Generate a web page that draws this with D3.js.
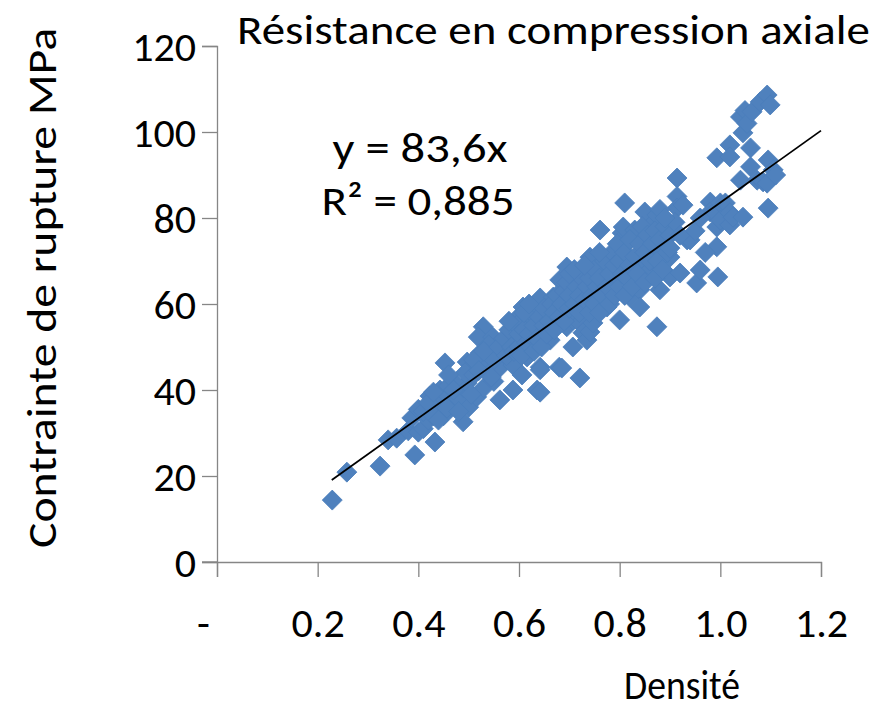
<!DOCTYPE html>
<html><head><meta charset="utf-8">
<script src="https://cdn.jsdelivr.net/npm/d3@7"></script>
<style>body{margin:0;background:#fff}svg{display:block}text{font-family:Carlito,Lato,"Open Sans",sans-serif;fill:#000}</style>
</head><body>
<svg id="c" width="894" height="711"></svg>
<script>
const density = [
0.229,0.258,0.324,0.340,0.357,0.393,0.380,0.400,0.410,0.433,
0.387,0.420,0.400,0.423,0.443,0.450,0.450,0.440,0.453,0.460,
0.470,0.489,0.480,0.490,0.500,0.497,0.457,0.516,0.470,0.497,
0.523,0.493,0.510,0.530,0.542,0.530,0.550,0.562,0.568,0.560,
0.529,0.519,0.548,0.558,0.540,0.550,0.510,0.520,0.530,0.545,
0.410,0.420,0.430,0.430,0.440,0.460,0.470,0.480,0.460,0.505,
0.588,0.596,0.602,0.608,0.622,0.622,0.616,0.642,0.588,0.606,
0.588,0.636,0.642,0.642,0.662,0.642,0.642,0.668,0.662,0.680,
0.685,0.695,0.707,0.707,0.721,0.721,0.727,0.735,0.741,0.747,
0.727,0.695,0.681,0.741,0.761,0.775,0.775,0.795,0.800,0.805,
0.807,0.807,0.810,0.820,0.830,0.840,0.840,0.840,0.850,0.860,
0.866,0.874,0.874,0.874,0.880,0.900,0.900,0.914,0.914,0.914,
0.926,0.920,0.934,0.940,0.953,0.960,0.980,0.980,0.986,0.993,
0.993,0.993,0.995,1.000,1.000,1.010,1.019,1.019,1.019,1.019,
1.025,1.040,1.040,1.045,1.045,1.049,1.053,1.060,1.060,1.063,
1.073,1.079,1.085,1.093,1.093,1.095,1.095,1.099,1.105,1.110,
0.560,0.570,0.575,0.580,0.585,0.590,0.595,0.600,0.600,0.605,
0.610,0.615,0.620,0.625,0.630,0.630,0.635,0.640,0.645,0.650,
0.650,0.655,0.660,0.665,0.670,0.670,0.675,0.680,0.685,0.690,
0.690,0.695,0.700,0.700,0.705,0.710,0.715,0.720,0.720,0.725,
0.730,0.735,0.740,0.740,0.745,0.750,0.750,0.755,0.760,0.760,
0.765,0.770,0.775,0.780,0.780,0.785,0.790,0.790,0.795,0.800,
0.800,0.805,0.810,0.810,0.815,0.820,0.820,0.825,0.830,0.835,
0.840,0.845,0.850,0.850,0.855,0.860,0.865,0.870,0.870,0.875,
0.880,0.885,0.890,0.895,0.900,0.910,0.900,0.920,0.950,0.960,
0.970,0.880,0.890,0.700,0.710,0.730,0.760,0.610,0.620,0.580
];
const strength = [
14.4,20.9,22.3,28.4,28.8,24.9,30.5,30.2,31.0,27.9,
33.5,33.0,35.5,38.6,40.0,37.0,34.0,36.5,46.3,38.5,
36.5,32.6,38.0,40.5,36.0,41.6,35.8,38.4,42.0,46.5,
48.6,44.0,43.5,46.0,44.0,40.5,42.0,37.7,47.7,45.0,
54.7,52.3,52.3,49.3,50.5,47.0,47.0,44.5,49.0,43.0,
35.0,37.0,34.0,39.5,33.0,41.0,40.0,35.0,43.5,39.0,
51.6,52.3,57.4,59.3,56.3,50.0,47.7,45.3,45.8,43.5,
40.0,40.0,39.5,44.7,51.6,54.0,61.4,61.6,57.9,45.3,
45.1,54.7,50.0,56.3,55.6,42.8,53.3,51.6,53.5,55.6,
59.3,68.6,65.6,70.9,77.2,69.5,59.3,65.6,56.3,76.5,
73.3,77.9,83.5,61.6,77.2,69.5,63.3,59.3,81.4,67.9,
78.8,80.7,72.6,54.7,63.3,66.3,70.9,89.3,85.0,82.3,
83.0,67.2,74.9,74.9,64.9,67.9,83.7,81.4,81.2,94.0,
77.9,73.3,66.3,83.5,79.5,83.5,97.0,94.2,81.2,78.4,
80.2,103.5,88.8,99.8,80.2,105.0,102.0,96.3,91.9,104.7,
88.8,107.0,88.4,108.6,88.1,93.5,82.3,106.3,91.2,90.0,
50,52,48,54,50,49,55,50,53,48,
54,51,53,58,55,49,52,57,50,55,
59,53,56,60,54,58,62,57,60,63,
56,65,59,62,67,60,64,58,62,66,
61,64,58,66,62,60,68,64,58,66,
62,70,64,60,67,72,62,69,74,64,
70,67,62,72,66,75,69,64,71,67,
74,78,72,65,76,70,74,66,77,70,
75,68,78,72,76,79,73,76,77,80,
72,82,80,67,68,69,72,58,60,56
];
const xTicks = [0, 0.2, 0.4, 0.6, 0.8, 1.0, 1.2];
const xTickLabels = ["-", "0.2", "0.4", "0.6", "0.8", "1.0", "1.2"];
const yTicks = [0, 20, 40, 60, 80, 100, 120];
const trendSlope = 83.6;
const trendRange = [0.228, 1.2];
const titleText = "Résistance en compression axiale";
const xLabel = "Densité";
const yLabel = "Contrainte de rupture MPa";
const eqText = "y = 83,6x";
const r2Text = "R² = 0,885";

const svg = d3.select("#c");
const x = d3.scaleLinear().domain([0, 1.2]).range([217, 821]);
const y = d3.scaleLinear().domain([0, 120]).range([562, 46]);
const axisColor = "#868686";

// y axis
const yAx = svg.append("g").attr("transform", "translate(217,0)")
  .call(d3.axisLeft(y).tickValues(yTicks).tickSize(15).tickFormat(d3.format("d")).tickPadding(6));
// x axis
const xAx = svg.append("g").attr("transform", "translate(0,562)")
  .call(d3.axisBottom(x).tickValues(xTicks).tickSize(15).tickFormat((d, i) => xTickLabels[i]).tickPadding(30));
[yAx, xAx].forEach(g => {
  g.select(".domain").attr("stroke", axisColor).attr("stroke-width", 1.3);
  g.selectAll(".tick line").attr("stroke", axisColor).attr("stroke-width", 1.3);
  g.selectAll(".tick text").attr("font-size", 42).attr("fill", "#000")
   .style("font-family", "Carlito,Lato,'Open Sans',sans-serif");
});
svg.append("line").attr("x1", 202).attr("x2", 217).attr("y1", y(0)).attr("y2", y(0))
  .attr("stroke", axisColor).attr("stroke-width", 1.3);
yAx.selectAll(".tick text").attr("dy", "0.35em");
xAx.selectAll(".tick text").filter((d, i) => i === 0).attr("dx", -14);

// points
const pts = density.map((d, i) => [d, strength[i]]);
svg.append("g").selectAll("path").data(pts).join("path")
  .attr("transform", d => `translate(${x(d[0])},${y(d[1])})`)
  .attr("d", "M0,-10L10,0L0,10L-10,0Z")
  .attr("fill", "#4F81BD").attr("stroke", "#4A7EBB").attr("stroke-width", 0.8);

// trend line
svg.append("line")
  .attr("x1", x(trendRange[0])).attr("y1", y(trendSlope * trendRange[0]))
  .attr("x2", x(trendRange[1])).attr("y2", y(trendSlope * trendRange[1]))
  .attr("stroke", "#000").attr("stroke-width", 1.8);

// texts
svg.append("text").attr("x", 237).attr("y", 44).attr("font-size", 42)
  .attr("textLength", 633).attr("lengthAdjust", "spacingAndGlyphs").text(titleText);
svg.append("text").attr("x", 420).attr("y", 162).attr("text-anchor", "middle").attr("font-size", 42)
  .attr("textLength", 175).attr("lengthAdjust", "spacingAndGlyphs").text(eqText);
svg.append("text").attr("x", 418).attr("y", 215).attr("text-anchor", "middle").attr("font-size", 42)
  .attr("textLength", 193).attr("lengthAdjust", "spacingAndGlyphs").text(r2Text);
svg.append("text").attr("x", 682).attr("y", 699).attr("text-anchor", "middle").attr("font-size", 40)
  .attr("textLength", 116).attr("lengthAdjust", "spacingAndGlyphs").text(xLabel);
svg.append("text").attr("transform", "translate(56,288) rotate(-90)").attr("text-anchor", "middle")
  .attr("font-size", 42).attr("textLength", 520).attr("lengthAdjust", "spacingAndGlyphs").text(yLabel);
</script>
</body></html>
